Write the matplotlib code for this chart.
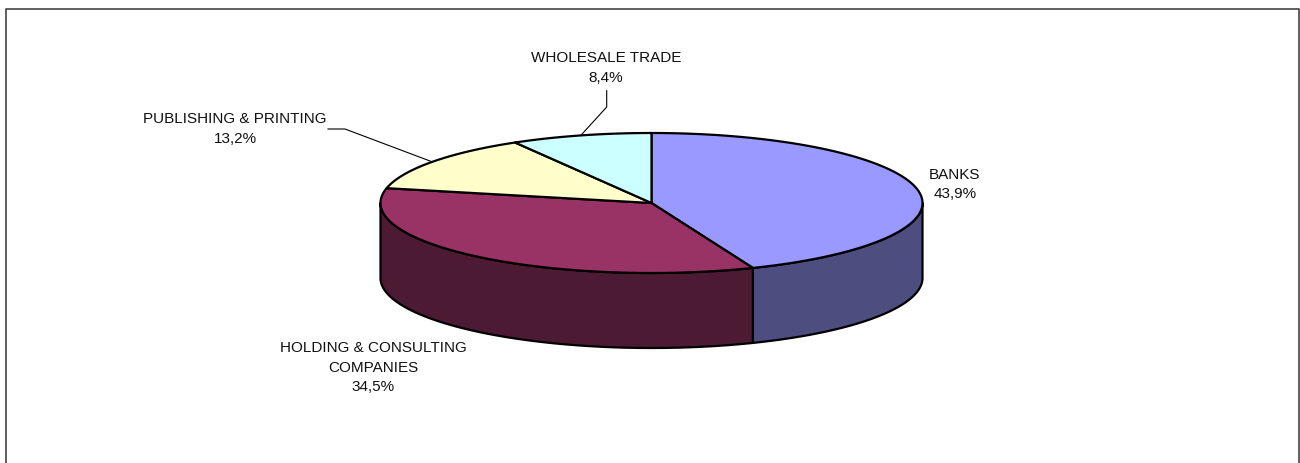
import numpy as np
import matplotlib.pyplot as plt
from matplotlib.patches import Polygon

# data
labels = ['BANKS', 'HOLDING & CONSULTING\nCOMPANIES', 'PUBLISHING & PRINTING', 'WHOLESALE TRADE']
shares = [43.9, 34.5, 13.2, 8.4]
pct_text = ['43,9%', '34,5%', '13,2%', '8,4%']
top_colors = ['#9999FF', '#993366', '#FFFFCC', '#CCFFFF']
side_colors = ['#4D4D80', '#4D1A33', '#80806A', '#6A8080']

# layout (pixel coords, y down)
cx, cy, rx, ry, depth = 651.5, 204.0, 271.0, 70.0, 75.0
label_pos = [(955, 184.5), (373, 368), (235, 129), (606, 68)]

fig = plt.figure(figsize=(13, 4.64), dpi=100)
ax = fig.add_axes([0, 0, 1, 1])
ax.set_xlim(0, 1300)
ax.set_ylim(464, 0)
ax.axis('off')


def pt(theta_deg, dz=0.0):
    t = np.radians(theta_deg)
    return cx + rx * np.cos(t), cy - ry * np.sin(t) + dz


# slices go clockwise from 12 o'clock
fracs = np.array(shares) / sum(shares)
starts = 90 - 360 * np.concatenate([[0], np.cumsum(fracs)[:-1]])
ends = starts - 360 * fracs

# side walls (front half only: theta in [-180, 0])
for i in range(len(shares)):
    a0 = min(starts[i], 0)
    a1 = max(ends[i], -180)
    if a0 <= a1:
        continue
    th = np.linspace(a0, a1, 120)
    xs, ys = pt(th)
    xb, yb = pt(th[::-1], depth)
    poly = np.column_stack([np.concatenate([xs, xb]), np.concatenate([ys, yb])])
    ax.add_patch(Polygon(poly, closed=True, facecolor=side_colors[i],
                         edgecolor='black', lw=1.6, joinstyle='round'))

# top faces
for i in range(len(shares)):
    th = np.linspace(starts[i], ends[i], 200)
    xs, ys = pt(th)
    poly = np.column_stack([np.concatenate([[cx], xs]), np.concatenate([[cy], ys])])
    ax.add_patch(Polygon(poly, closed=True, facecolor=top_colors[i],
                         edgecolor='black', lw=1.6, joinstyle='round'))

# labels
for i in range(len(shares)):
    lx, ly = label_pos[i]
    ax.text(lx, ly, labels[i] + '\n' + pct_text[i], ha='center', va='center',
            fontsize=11, family='Liberation Sans', linespacing=1.5, color='#111111')

# leader lines for the small slices
mid = (starts + ends) / 2
ex, ey = pt(mid[3])
ax.plot([606.7, 606.7, ex], [91.7, 108, ey], color='black', lw=0.8)
ex, ey = pt(mid[2])
ax.plot([328, 345, ex], [130, 130, ey], color='black', lw=0.8)

# chart frame
ax.plot([6, 6, 1299, 1299], [470, 10, 10, 470], color='#444444', lw=1.2)

fig.savefig('out.png', dpi=100)
